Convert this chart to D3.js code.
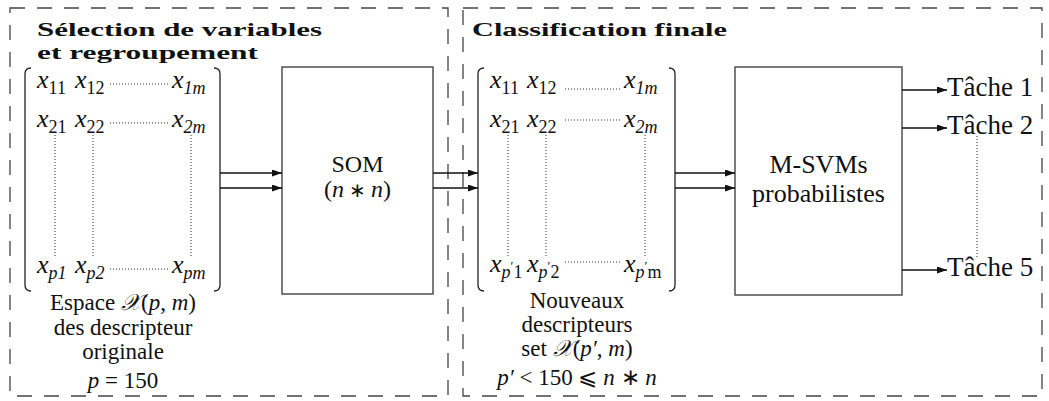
<!DOCTYPE html>
<html>
<head>
<meta charset="utf-8">
<script src="https://cdn.jsdelivr.net/npm/d3@7"></script>
<style>
  body { margin: 0; background: #fff; }
</style>
</head>
<body>
<script>
// contenu du schema
var titles = ['Sélection de variables', 'et regroupement', 'Classification finale'];
var leftSubs = [['11', '12', '1m'], ['21', '22', '2m'], ['p1', 'p2', 'pm']];
var rightSubs = [['11', '12', '1m'], ['21', '22', '2m'], ['p′1', 'p′2', 'p′m']];
var blocks = [['SOM', '(n∗n)'], ['M-SVMs', 'probabilistes']];
var tasks = ['Tâche 1', 'Tâche 2', 'Tâche 5'];
// morceaux : [texte, italique?]
var leftCaption = [
    [['Espace ', 0], ['𝒳', 1], ['(', 0], ['p', 1], [', ', 0], ['m', 1], [')', 0]],
    [['des descripteur', 0]],
    [['originale', 0]],
    [['p', 1], [' = 150', 0]]
];
var rightCaption = [
    [['Nouveaux', 0]],
    [['descripteurs', 0]],
    [['set ', 0], ['𝒳', 1], ['(', 0], ['p′', 1], [', ', 0], ['m', 1], [')', 0]],
    [['p′', 1], [' < 150 ⩽ ', 0], ['n', 1], [' ∗ ', 0], ['n', 1]]
];

var width = 1049, height = 401;
var serif = "'Liberation Serif', serif";

// mise en page
var frames = [{x0: 10, x1: 448}, {x0: 463, x1: 1042}];
var frameY = [8, 396];
var titlePos = [{x: 37, y: 36, len: 285}, {x: 37, y: 59, len: 221}, {x: 472, y: 36, len: 255}];
var matrices = [
    {x0: 25, x1: 220, cols: [37, 75, 172], dots: [110, 170], rowsY: [88, 127, 273], dotY: [84, 123, 269],
     vx: [55, 93, 191], subs: leftSubs},
    {x0: 478, x1: 675, cols: [490, 527, 624], dots: [565, 620], rowsY: [88, 127, 272], dotY: [89, 120, 262],
     vx: [508, 546, 645], subs: rightSubs}
];
var matY = [68, 291];
var vDotY = [135, 257];
var boxPos = [{x0: 282, x1: 433, y0: 67, y1: 294, ty: [172, 197], fs: 24},
              {x0: 735, x1: 902, y0: 67, y1: 295, ty: [173, 202], fs: 26}];
var arrowY = [173, 188];
var flows = [[220, 282], [433, 478], [675, 735]];
var taskY = d3.scaleOrdinal().domain(tasks).range([90, 128, 270]);
var captions = [{cx: 123, ys: [310, 335, 359, 388], lines: leftCaption},
                {cx: 577, ys: [308, 332, 356, 385], lines: rightCaption}];

var svg = d3.select('body').append('svg')
    .attr('width', width)
    .attr('height', height)
    .style('font-family', serif);

svg.append('defs').append('marker')
    .attr('id', 'tip')
    .attr('viewBox', '0 0 10 7')
    .attr('refX', 10).attr('refY', 3.5)
    .attr('markerWidth', 10).attr('markerHeight', 7)
    .attr('markerUnits', 'userSpaceOnUse')
    .attr('orient', 'auto')
    .append('path')
        .attr('d', 'M0,0 L10,3.5 L0,7 Z')
        .attr('fill', '#111');

// cadres en tirets
svg.selectAll('.frame')
    .data(frames)
    .enter().append('rect')
        .attr('class', 'frame')
        .attr('x', function(d) { return d.x0; })
        .attr('y', frameY[0])
        .attr('width', function(d) { return d.x1 - d.x0; })
        .attr('height', frameY[1] - frameY[0])
        .attr('fill', 'none')
        .attr('stroke', '#444')
        .attr('stroke-width', 1.3)
        .attr('stroke-dasharray', '15,12');

svg.selectAll('.title')
    .data(titles)
    .enter().append('text')
        .attr('class', 'title')
        .attr('x', function(d, i) { return titlePos[i].x; })
        .attr('y', function(d, i) { return titlePos[i].y; })
        .attr('textLength', function(d, i) { return titlePos[i].len; })
        .attr('lengthAdjust', 'spacingAndGlyphs')
        .style('font-family', serif)
        .style('font-weight', 'bold')
        .attr('font-size', 19)
        .attr('fill', '#111')
        .text(function(d) { return d; });

// matrices
matrices.forEach(function(m) {
    var g = svg.append('g');
    var r = 6;
    g.append('path')
        .attr('d', 'M' + (m.x0 + r) + ',' + matY[0] + ' Q' + m.x0 + ',' + matY[0] + ' ' + m.x0 + ',' + (matY[0] + r) +
            ' L' + m.x0 + ',' + (matY[1] - r) + ' Q' + m.x0 + ',' + matY[1] + ' ' + (m.x0 + r) + ',' + matY[1])
        .attr('fill', 'none').attr('stroke', '#222').attr('stroke-width', 1.3);
    g.append('path')
        .attr('d', 'M' + (m.x1 - r) + ',' + matY[0] + ' Q' + m.x1 + ',' + matY[0] + ' ' + m.x1 + ',' + (matY[0] + r) +
            ' L' + m.x1 + ',' + (matY[1] - r) + ' Q' + m.x1 + ',' + matY[1] + ' ' + (m.x1 - r) + ',' + matY[1])
        .attr('fill', 'none').attr('stroke', '#222').attr('stroke-width', 1.3);

    m.subs.forEach(function(row, ri) {
        row.forEach(function(s, ci) {
            var t = g.append('text')
                .attr('x', m.cols[ci])
                .attr('y', m.rowsY[ri])
                .style('font-family', serif)
                .attr('fill', '#111')
                .attr('font-size', 26);
            t.append('tspan').style('font-style', 'italic').text('x');
            var parts = s.split('′');
            if (parts.length > 1) {
                t.append('tspan').attr('dy', 6).attr('font-size', 18).style('font-style', 'italic').text(parts[0]);
                t.append('tspan').attr('dy', -8).attr('font-size', 13).text('′');
                t.append('tspan').attr('dy', 8).attr('font-size', 18).text(parts[1]);
            } else {
                t.append('tspan').attr('dy', 6).attr('font-size', 18)
                    .style('font-style', /[a-z]/.test(s) ? 'italic' : 'normal')
                    .text(s);
            }
        });
        g.append('line')
            .attr('x1', m.dots[0]).attr('x2', m.dots[1])
            .attr('y1', m.dotY[ri]).attr('y2', m.dotY[ri])
            .attr('stroke', '#333').attr('stroke-width', 1).attr('stroke-dasharray', '1,2');
    });

    g.selectAll('.vdot')
        .data(m.vx)
        .enter().append('line')
            .attr('x1', function(d) { return d; })
            .attr('x2', function(d) { return d; })
            .attr('y1', vDotY[0]).attr('y2', vDotY[1])
            .attr('stroke', '#333').attr('stroke-width', 1).attr('stroke-dasharray', '1,2');
});

// blocs SOM et M-SVMs
var box = svg.selectAll('.box')
    .data(blocks)
    .enter().append('g')
        .attr('class', 'box');

box.append('rect')
    .attr('x', function(d, i) { return boxPos[i].x0; })
    .attr('y', function(d, i) { return boxPos[i].y0; })
    .attr('width', function(d, i) { return boxPos[i].x1 - boxPos[i].x0; })
    .attr('height', function(d, i) { return boxPos[i].y1 - boxPos[i].y0; })
    .attr('fill', 'none')
    .attr('stroke', '#444')
    .attr('stroke-width', 1.4);

box.each(function(d, i) {
    var p = boxPos[i];
    var g = d3.select(this);
    d.forEach(function(line, li) {
        var t = g.append('text')
            .attr('x', (p.x0 + p.x1) / 2)
            .attr('y', p.ty[li])
            .attr('text-anchor', 'middle')
            .style('font-family', serif)
            .attr('fill', '#111')
            .attr('font-size', p.fs);
        if (line.charAt(0) === '(') {
            t.append('tspan').text('(');
            t.append('tspan').style('font-style', 'italic').text('n');
            t.append('tspan').attr('font-size', 20).text(' ∗ ');
            t.append('tspan').style('font-style', 'italic').text('n');
            t.append('tspan').text(')');
        } else {
            t.text(line);
        }
    });
});

// fleches doubles entre les blocs
flows.forEach(function(f) {
    svg.selectAll(null)
        .data(arrowY)
        .enter().append('line')
            .attr('x1', f[0]).attr('x2', f[1])
            .attr('y1', function(d) { return d; })
            .attr('y2', function(d) { return d; })
            .attr('stroke', '#111')
            .attr('stroke-width', 1.3)
            .attr('marker-end', 'url(#tip)');
});

// sorties
svg.selectAll('.task-arrow')
    .data(tasks)
    .enter().append('line')
        .attr('class', 'task-arrow')
        .attr('x1', 902).attr('x2', 947)
        .attr('y1', function(d) { return taskY(d); })
        .attr('y2', function(d) { return taskY(d); })
        .attr('stroke', '#111')
        .attr('stroke-width', 1.3)
        .attr('marker-end', 'url(#tip)');

svg.selectAll('.task')
    .data(tasks)
    .enter().append('text')
        .attr('class', 'task')
        .attr('x', 947)
        .attr('y', function(d) { return taskY(d) + 6; })
        .style('font-family', serif)
        .attr('fill', '#111')
        .attr('font-size', 27)
        .text(function(d) { return d; });

svg.append('line')
    .attr('x1', 977).attr('x2', 977)
    .attr('y1', taskY(tasks[1]) + 8).attr('y2', taskY(tasks[2]) - 13)
    .attr('stroke', '#333').attr('stroke-width', 1).attr('stroke-dasharray', '1,2');

// legendes sous les matrices
captions.forEach(function(c) {
    c.lines.forEach(function(line, li) {
        var t = svg.append('text')
            .attr('x', c.cx)
            .attr('y', c.ys[li])
            .attr('text-anchor', 'middle')
            .style('font-family', serif)
            .attr('fill', '#111')
            .attr('font-size', 23);
        line.forEach(function(piece) {
            t.append('tspan')
                .style('font-style', piece[1] ? 'italic' : 'normal')
                .text(piece[0]);
        });
    });
});
</script>
</body>
</html>
